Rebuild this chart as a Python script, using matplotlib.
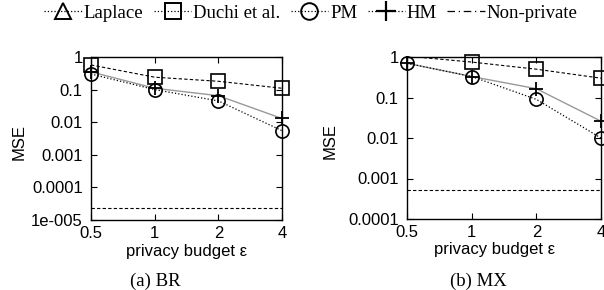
import matplotlib
matplotlib.use('Agg')
import matplotlib.pyplot as plt
from matplotlib.lines import Line2D
import numpy as np

# privacy budget values
eps = [0.5, 1, 2, 4]

# (a) BR
br_laplace = [4.5, 2.2, 1.5, 1.2]   # above the plotted range, not visible
br_duchi = [0.57, 0.24, 0.18, 0.11]
br_pm = [0.30, 0.10, 0.045, 0.0055]
br_hm = [0.35, 0.11, 0.065, 0.013]
br_nonpriv = 2.3e-5

# (b) MX
mx_laplace = [6.0, 3.0, 1.8, 1.3]   # above the plotted range, not visible
mx_duchi = [1.05, 0.75, 0.5, 0.3]
mx_pm = [0.70, 0.33, 0.09, 0.010]
mx_hm = [0.70, 0.33, 0.165, 0.026]
mx_nonpriv = 5.3e-4

br_yticks = [1e-5, 1e-4, 1e-3, 1e-2, 1e-1, 1]
br_ylabels = ['1e-005', '0.0001', '0.001', '0.01', '0.1', '1']
mx_yticks = [1e-4, 1e-3, 1e-2, 1e-1, 1]
mx_ylabels = ['0.0001', '0.001', '0.01', '0.1', '1']
xlabels = ['0.5', '1', '2', '4']

sans = 'Liberation Sans'
serif = 'Liberation Serif'

W, H = 604, 290
fig = plt.figure(figsize=(W / 100, H / 100), dpi=100)


def series(ax, y, top, ls, color, lw, marker, ms, mew):
    # line is clipped to the axes, points out of range are skipped (gnuplot style)
    ax.plot(eps, y, color=color, linestyle=ls, linewidth=lw)
    yy = np.ma.masked_greater(np.array(y, dtype=float), top)
    ax.plot(eps, yy, linestyle='none', marker=marker, markersize=ms,
            markerfacecolor='none', markeredgecolor='black', markeredgewidth=mew,
            clip_on=False, zorder=3)


def draw(rect, laplace, duchi, pm, hm, nonpriv, yticks, ylabels, xlab_x, ylab_x,
         caption, cap_x):
    ax = fig.add_axes(rect)
    top = yticks[-1]
    series(ax, laplace, top, ':', 'black', 0.9, '^', 10, 1.2)
    series(ax, duchi, top, (0, (3, 2)), 'black', 0.8, 's', 9.5, 1.2)
    series(ax, hm, top, '-', '#999999', 1.0, '+', 10, 1.3)
    series(ax, pm, top, ':', 'black', 0.9, 'o', 9.5, 1.2)
    ax.axhline(nonpriv, color='black', linestyle=(0, (3, 2)), linewidth=0.8)

    ax.set_xscale('log', base=2)
    ax.set_yscale('log')
    ax.set_xlim(0.5, 4)
    ax.set_ylim(yticks[0], top)
    ax.set_xticks(eps)
    ax.set_xticklabels(xlabels, fontfamily=sans, fontsize=12)
    ax.set_yticks(yticks)
    ax.set_yticklabels(ylabels, fontfamily=sans, fontsize=12)
    ax.minorticks_off()
    ax.tick_params(direction='in', top=True, right=True, length=4, width=0.8)
    ax.tick_params(axis='y', pad=6)
    ax.tick_params(axis='x', pad=4)
    for s in ax.spines.values():
        s.set_linewidth(1.0)
    ax.set_xlabel('privacy budget ε', fontfamily=sans, fontsize=12)
    ax.xaxis.set_label_coords(xlab_x, -0.145)
    ax.set_ylabel('MSE', fontfamily=sans, fontsize=12)
    ax.yaxis.set_label_coords(ylab_x, 0.48)
    fig.text(cap_x / W, 1 - 281 / H, caption, fontfamily=serif, fontsize=13.5,
             ha='center', va='center')
    return ax


draw([91 / W, 1 - 220 / H, 191 / W, 163 / H], br_laplace, br_duchi, br_pm, br_hm,
     br_nonpriv, br_yticks, br_ylabels, 0.5, -0.335, '(a) BR', 155)
draw([407 / W, 1 - 219 / H, 194 / W, 162 / H], mx_laplace, mx_duchi, mx_pm, mx_hm,
     mx_nonpriv, mx_yticks, mx_ylabels, 0.45, -0.356, '(b) MX', 478)

handles = [
    Line2D([], [], color='black', linestyle=':', linewidth=0.9, marker='^',
           markersize=12, markerfacecolor='none', markeredgewidth=1.4),
    Line2D([], [], color='black', linestyle=':', linewidth=0.9, marker='s',
           markersize=12, markerfacecolor='none', markeredgewidth=1.4),
    Line2D([], [], color='black', linestyle=':', linewidth=0.9, marker='o',
           markersize=12, markerfacecolor='none', markeredgewidth=1.4),
    Line2D([], [], color='black', linestyle=':', linewidth=0.9, marker='+',
           markersize=14, markeredgewidth=1.6),
    Line2D([], [], color='black', linestyle=(0, (6, 3, 1, 3)), linewidth=0.9),
]
labels = ['Laplace', 'Duchi et al.', 'PM', 'HM', 'Non-private']
fig.legend(handles, labels, loc='center', bbox_to_anchor=(311 / W, 1 - 13 / H),
           ncol=5, frameon=False, handlelength=2.0, handletextpad=0.1,
           columnspacing=0.55, borderpad=0, prop={'family': serif, 'size': 13.5})

fig.savefig('out.png', dpi=100)
